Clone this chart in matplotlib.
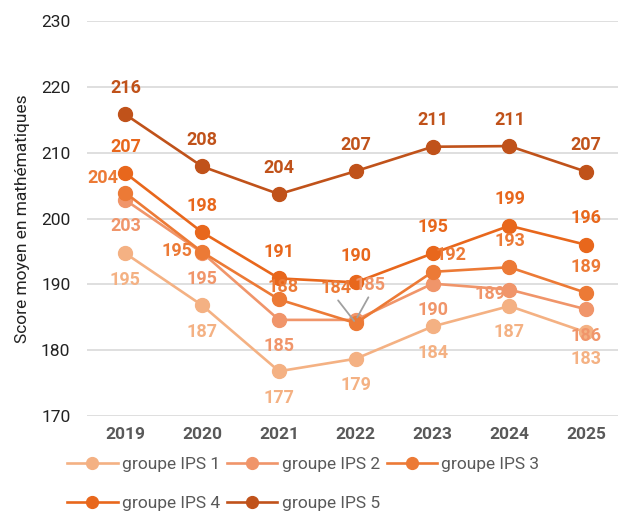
import matplotlib
matplotlib.use("Agg")
import matplotlib.pyplot as plt

plt.rcParams['font.family'] = ['Roboto', 'DejaVu Sans']

years = ['2019', '2020', '2021', '2022', '2023', '2024', '2025']
series_names = ['groupe IPS 1', 'groupe IPS 2', 'groupe IPS 3', 'groupe IPS 4', 'groupe IPS 5']
ips1 = [194.7, 186.8, 176.8, 178.7, 183.6, 186.7, 182.7]
ips2 = [202.8, 194.8, 184.6, 184.6, 190.1, 189.2, 186.2]
ips3 = [203.9, 194.9, 187.7, 184.1, 191.9, 192.6, 188.7]
ips4 = [206.9, 197.9, 190.9, 190.3, 194.7, 198.9, 196.0]
ips5 = [215.8, 207.9, 203.7, 207.2, 210.9, 211.0, 207.1]
colors = ['#f4b183', '#f0956a', '#ec7a36', '#e8671c', '#c0521a']

# label offsets in points (default above / below, a few moved by hand)
up = (0, 19)
down = (0, -19)
offsets = [
    [down] * 7,
    [down, down, down, (10, 25), down, (-14, -3), down],
    [(-16, 11), (-18, 1), (3, 9), (-14, 25), (13, 12), up, up],
    [up] * 7,
    [up] * 7,
]
values = [ips1, ips2, ips3, ips4, ips5]

fig = plt.figure(figsize=(6.18, 5.11), dpi=100)
ax = fig.add_axes([0.1408, 0.1859, 0.870, 0.773])

x = range(len(years))
handles = []
for name, vals, c, offs in zip(series_names, values, colors, offsets):
    h, = ax.plot(x, vals, color=c, lw=1.9, marker='o', markersize=10,
                 markeredgecolor=c, label=name, zorder=3)
    handles.append(h)
    for i, v in enumerate(vals):
        ax.annotate(f"{round(v):d}", (i, v), xytext=offs[i], textcoords='offset points',
                    ha='center', va='center', color=c, fontsize=13,
                    fontweight='bold', zorder=4)

# leader lines for the 2022 labels
ax.annotate('', (3, ips3[3]), xytext=(-14, 18), textcoords='offset points',
            arrowprops=dict(arrowstyle='-', color='#a0a0a0', lw=1.3))
ax.annotate('', (3, ips2[3]), xytext=(10, 18), textcoords='offset points',
            arrowprops=dict(arrowstyle='-', color='#a0a0a0', lw=1.3))

ax.set_xlim(-0.5, 6.5)
ax.set_ylim(170, 230)
ax.set_yticks(range(170, 231, 10))
ax.set_xticks(list(x))
ax.set_xticklabels(years, fontweight='bold', color='#595959', fontsize=12.5)
ax.tick_params(axis='y', labelsize=12.5, colors='#222222', length=0, pad=12)
ax.tick_params(axis='x', length=0, pad=8)
ax.grid(axis='y', color='#d9d9d9', lw=1.2)
ax.set_axisbelow(True)
for s in ax.spines.values():
    s.set_visible(False)
ax.set_ylabel('Score moyen en mathématiques', fontsize=12.5, color='#222222', labelpad=8)

# row order: 1 2 3 / 4 5
order = [0, 3, 1, 4, 2]
ax.legend([handles[i] for i in order], [series_names[i] for i in order],
          loc='upper left', bbox_to_anchor=(-0.066, -0.063), ncol=3, frameon=False,
          fontsize=12.5, labelcolor='#595959', handlelength=2.9, handletextpad=0.25,
          columnspacing=0.4, labelspacing=1.4, markerscale=0.85)

fig.savefig('out.png', dpi=100)
